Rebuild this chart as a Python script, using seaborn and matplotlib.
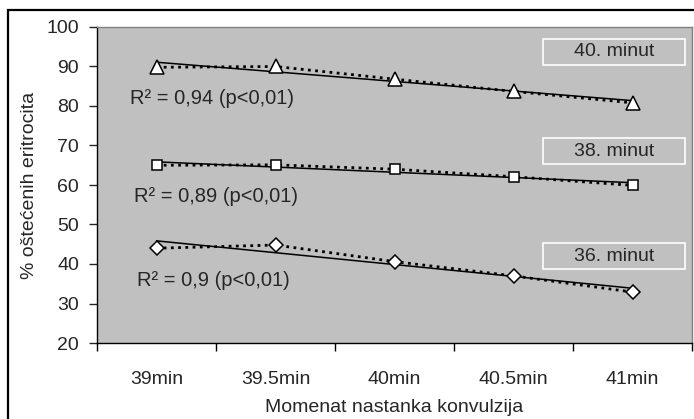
import numpy as np
import pandas as pd
import seaborn as sns
import matplotlib.pyplot as plt
from matplotlib.patches import Rectangle

# Data
categories = ["39min", "39.5min", "40min", "40.5min", "41min"]
min40 = [89.8, 90.0, 86.8, 83.7, 80.8]
min38 = [65.0, 65.1, 64.0, 62.1, 59.9]
min36 = [44.0, 44.8, 40.6, 37.0, 32.9]
series_labels = ["40. minut", "38. minut", "36. minut"]
r2_labels = ["R² = 0,94 (p<0,01)", "R² = 0,89 (p<0,01)", "R² = 0,9 (p<0,01)"]

sns.set_style("ticks")
plt.rcParams['font.family'] = ['Liberation Sans', 'DejaVu Sans']

pos = np.arange(len(categories))
df = pd.DataFrame({"pos": np.tile(pos, 3),
                   "value": min40 + min38 + min36,
                   "series": np.repeat(series_labels, len(categories))})

fig = plt.figure(figsize=(6.94, 4.19), dpi=100)
ax = fig.add_axes([97 / 694, 1 - 343 / 419, 595 / 694, 316 / 419])
ax.set_facecolor("#C0C0C0")

markers = {"40. minut": "^", "38. minut": "s", "36. minut": "D"}
msizes = {"40. minut": 10.5, "38. minut": 7.5, "36. minut": 7.5}

for name in series_labels:
    sub = df[df["series"] == name]
    # solid linear trend line
    sns.regplot(x="pos", y="value", data=sub, ax=ax, ci=None, scatter=False,
                line_kws=dict(color="black", lw=1.1, zorder=2))
    # dotted data line with hollow markers
    sns.lineplot(x="pos", y="value", data=sub, ax=ax, color="black",
                 lw=2, linestyle=(0, (1, 1.6)), marker=markers[name],
                 markersize=msizes[name], markerfacecolor="white",
                 markeredgecolor="black", markeredgewidth=1.1, zorder=3)

# R² annotations
r2_pos = [(-0.22, 81.8), (-0.19, 57.0), (-0.16, 35.7)]
for (x, y), txt in zip(r2_pos, r2_labels):
    ax.text(x, y, txt, fontsize=14.5, va="center", ha="left")

# series label boxes
box_y = [93.7, 68.6, 42.0]
for y, txt in zip(box_y, series_labels):
    ax.add_patch(Rectangle((3.25, y - 3.3), 1.19, 6.6, facecolor="#C0C0C0",
                           edgecolor="white", lw=1.2, zorder=1))
    ax.text(3.845, y, txt, fontsize=14, ha="center", va="center")

ax.set_xlim(-0.5, 4.5)
ax.set_ylim(20, 100)
ax.set_yticks(range(20, 101, 10))
ax.set_xticks(pos)
ax.set_xticklabels(categories)
ax.set_xticks(np.arange(-0.5, 4.6, 1), minor=True)
ax.tick_params(axis="x", which="major", length=0, pad=20, labelsize=14)
ax.tick_params(axis="x", which="minor", length=6, width=1, color="black")
ax.tick_params(axis="y", length=6, width=1, pad=7, labelsize=14)

ax.set_xlabel("Momenat nastanka konvulzija", fontsize=14, labelpad=8)
ax.set_ylabel("% oštećenih eritrocita", fontsize=14, labelpad=6)

for s in ["left", "bottom"]:
    ax.spines[s].set_color("black")
    ax.spines[s].set_linewidth(1)
for s in ["top", "right"]:
    ax.spines[s].set_color("#808080")
    ax.spines[s].set_linewidth(1)

# outer chart frame
fig.patches.append(Rectangle((8 / 694, -0.1), 1.2, 1.1 - 10 / 419, transform=fig.transFigure,
                             fill=False, edgecolor="black", lw=1.6))

fig.savefig("out.png", dpi=100)
